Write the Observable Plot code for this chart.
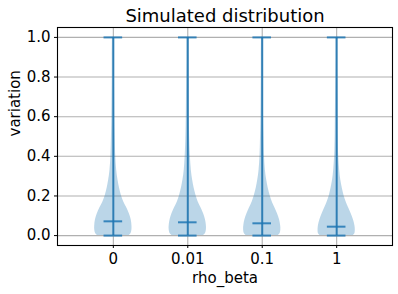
<!DOCTYPE html>
<html>
<head>
<meta charset="utf-8">
<script src="https://cdn.jsdelivr.net/npm/d3@7"></script>
<script src="https://cdn.jsdelivr.net/npm/@observablehq/plot@0.6"></script>
<style>
  html, body { margin: 0; padding: 0; background: #fff; }
  svg { font-family: "DejaVu Sans", sans-serif; }
</style>
</head>
<body>
<div id="chart"></div>
<script>
const categories = ["0", "0.01", "0.1", "1"];
const levels = [0, 0.01, 0.03, 0.05, 0.08, 0.11, 0.14, 0.17, 0.2, 0.24, 0.28, 0.33, 0.4, 0.5, 0.6, 0.7, 0.8, 0.9, 1.0];
const widths0 = [0.86, 0.95, 1.0, 1.0, 0.96, 0.86, 0.72, 0.56, 0.44, 0.33, 0.25, 0.18, 0.13, 0.1, 0.08, 0.07, 0.06, 0.06, 0.05];
const widths1 = [0.85, 0.95, 1.0, 1.0, 0.95, 0.85, 0.71, 0.56, 0.45, 0.34, 0.26, 0.19, 0.14, 0.1, 0.08, 0.07, 0.06, 0.05, 0.05];
const widths2 = [0.87, 0.96, 1.0, 0.99, 0.93, 0.82, 0.68, 0.54, 0.43, 0.32, 0.24, 0.17, 0.12, 0.09, 0.07, 0.06, 0.05, 0.05, 0.04];
const widths3 = [0.9, 0.98, 1.0, 0.98, 0.9, 0.78, 0.64, 0.51, 0.4, 0.3, 0.22, 0.16, 0.11, 0.08, 0.07, 0.06, 0.05, 0.04, 0.04];
const allWidths = [widths0, widths1, widths2, widths3];
const mins = [0, 0, 0, 0];
const maxs = [1, 1, 1, 1];
const means = [0.072, 0.067, 0.062, 0.045];
const yTicks = [0, 0.2, 0.4, 0.6, 0.8, 1.0];

const violinRows = [];
categories.forEach((c, i) => {
  levels.forEach((lv, j) => violinRows.push({cat: c, pos: i + 1, y: lv, w: allWidths[i][j]}));
});
const statRows = categories.map((c, i) => ({cat: c, pos: i + 1, min: mins[i], max: maxs[i], mean: means[i]}));
const capRows = [];
statRows.forEach(d => { ["min", "max", "mean"].forEach(k => capRows.push({pos: d.pos, v: d[k]})); });

const C = "#1f77b4";
const plot = Plot.plot({
  width: 398,
  height: 294,
  marginLeft: 57,
  marginRight: 6,
  marginTop: 27,
  marginBottom: 49,
  style: {fontFamily: "DejaVu Sans, sans-serif", fontSize: "15px", color: "#000", background: "#fff"},
  x: {type: "linear", domain: [0.25, 4.75], ticks: [1, 2, 3, 4], tickFormat: v => categories[v - 1], label: null},
  y: {domain: [-0.05, 1.05], ticks: yTicks, tickFormat: d3.format(".1f"), label: null},
  marks: [
    Plot.gridY(yTicks, {stroke: "#b0b0b0", strokeOpacity: 1, strokeWidth: 1.1}),
    Plot.gridX([1, 2, 3, 4], {stroke: "#b0b0b0", strokeOpacity: 1, strokeWidth: 1.1}),
    Plot.areaX(violinRows, {
      y: "y", x1: d => d.pos - 0.25 * d.w, x2: d => d.pos + 0.25 * d.w, z: "cat",
      fill: C, fillOpacity: 0.3, curve: "catmull-rom"
    }),
    Plot.ruleX(statRows, {x: "pos", y1: "min", y2: "max", stroke: C, strokeOpacity: 0.85, strokeWidth: 2}),
    Plot.ruleY(capRows, {y: "v", x1: d => d.pos - 0.125, x2: d => d.pos + 0.125, stroke: C, strokeOpacity: 0.85, strokeWidth: 2}),
    Plot.axisY(yTicks, {tickSize: 3, tickPadding: 4, tickFormat: d3.format(".1f"), label: null, fontSize: 15}),
    Plot.axisX([1, 2, 3, 4], {tickSize: 3, tickPadding: 5, tickFormat: v => categories[v - 1], label: null, fontSize: 15}),
    Plot.frame({stroke: "#000", strokeWidth: 1.1}),
    Plot.text(["Simulated distribution"], {text: d => d, frameAnchor: "top", dy: -6, lineAnchor: "bottom", fontSize: 18}),
    Plot.text(["rho_beta"], {text: d => d, frameAnchor: "bottom", dy: 37, lineAnchor: "bottom", fontSize: 15}),
    Plot.text(["variation"], {text: d => d, frameAnchor: "left", dx: -42, rotate: -90, fontSize: 15})
  ]
});
document.getElementById("chart").appendChild(plot);
</script>
</body>
</html>
